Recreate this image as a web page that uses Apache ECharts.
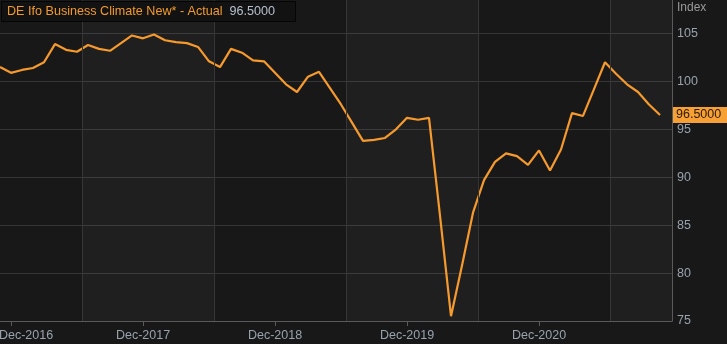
<!DOCTYPE html>
<html>
<head>
<meta charset="utf-8">
<script src="https://cdn.jsdelivr.net/npm/echarts@6/dist/echarts.min.js"></script>
<style>
html,body{margin:0;padding:0;background:#181818;}
#c{width:727px;height:344px;}
</style>
</head>
<body>
<div id="c"></div>
<script>
// Monthly observations, Nov-2016 .. Nov-2021
const months = [
 '2016-11','2016-12',
 '2017-01','2017-02','2017-03','2017-04','2017-05','2017-06','2017-07','2017-08','2017-09','2017-10','2017-11','2017-12',
 '2018-01','2018-02','2018-03','2018-04','2018-05','2018-06','2018-07','2018-08','2018-09','2018-10','2018-11','2018-12',
 '2019-01','2019-02','2019-03','2019-04','2019-05','2019-06','2019-07','2019-08','2019-09','2019-10','2019-11','2019-12',
 '2020-01','2020-02','2020-03','2020-04','2020-05','2020-06','2020-07','2020-08','2020-09','2020-10','2020-11','2020-12',
 '2021-01','2021-02','2021-03','2021-04','2021-05','2021-06','2021-07','2021-08','2021-09','2021-10','2021-11'
];
const values = [
 101.5,100.9,
 101.2,101.4,102.0,103.9,103.3,103.1,103.8,103.4,103.2,104.0,104.8,104.5,
 104.9,104.3,104.1,104.0,103.6,102.1,101.5,103.4,103.0,102.2,102.1,100.9,
 99.7,98.9,100.5,101.0,99.3,97.6,95.7,93.8,93.9,94.1,95.0,96.2,
 96.0,96.2,86.0,75.5,80.8,86.3,89.7,91.6,92.5,92.2,91.3,92.8,
 90.7,92.9,96.7,96.4,99.2,102.0,100.8,99.7,98.9,97.6,96.5
];
const tickMonths = ['2016-12','2017-12','2018-12','2019-12','2020-12'];
const tickLabels = ['Dec-2016','Dec-2017','Dec-2018','Dec-2019','Dec-2020'];
const yTicks = [75,80,85,90,95,100,105];
const seriesTitle = 'DE Ifo Business Climate New* - Actual';
const yName = 'Index';

const latest = values[values.length - 1];
const latestText = latest.toFixed(4);
const FONT = '"Liberation Sans", Arial, sans-serif';
const tickIdx = tickMonths.map(m => months.indexOf(m));
const gridLinesX = [7.45, 19.45, 31.45, 43.45, 55.45];
const bandEdges = [[7.45, 19.45], [31.45, 43.45], [55.45, 672 / 11]];

const chart = echarts.init(document.getElementById('c'), null, {renderer: 'canvas'});
chart.setOption({
  backgroundColor: '#181818',
  animation: false,
  title: {
    text: '{a|' + seriesTitle + '}  {b|' + latestText + '}',
    left: 1, top: 1,
    padding: [4, 21, 4, 6],
    backgroundColor: '#121212',
    borderColor: '#050505',
    borderWidth: 1,
    textStyle: {
      fontSize: 12.6, fontFamily: FONT, fontWeight: 'normal',
      rich: {
        a: {color: '#f39a2c', fontSize: 12.6, fontFamily: FONT},
        b: {color: '#b4c0cc', fontSize: 12.6, fontFamily: FONT}
      }
    }
  },
  grid: {left: 0, right: 55, top: 0, bottom: 23, show: false, outerBoundsMode: 'none', containLabel: false},
  xAxis: {
    type: 'value', min: 0, max: 672 / 11,
    axisLine: {show: true, onZero: false, lineStyle: {color: '#5a5a5a', width: 1}},
    axisTick: {show: true, length: 5, customValues: tickIdx, lineStyle: {color: '#5a5a5a'}},
    splitLine: {show: false},
    axisLabel: {
      customValues: tickIdx, margin: 8, fontSize: 12.5, fontFamily: FONT, color: '#98a3ae',
      formatter: function (v) {
        const i = tickIdx.indexOf(Math.round(v));
        if (i < 0) return '';
        return i === 0 ? '{f|' + tickLabels[i] + '}' : tickLabels[i];
      },
      rich: {f: {padding: [0, 0, 0, 30], fontSize: 12.5, fontFamily: FONT, color: '#98a3ae'}}
    }
  },
  yAxis: {
    type: 'value', position: 'right', min: 75, max: 108.5, interval: 5,
    axisLine: {show: true, onZero: false, lineStyle: {color: '#5a5a5a', width: 1}},
    axisTick: {show: false},
    splitLine: {show: true, showMaxLine: false, lineStyle: {color: '#363636', width: 1}},
    axisLabel: {
      margin: 5, fontSize: 12.5, fontFamily: FONT, color: '#98a3ae',
      showMaxLabel: false,
      formatter: v => (yTicks.indexOf(v) >= 0 ? String(v) : '')
    }
  },
  series: [{
    type: 'line',
    data: values.map((v, i) => [i, v]),
    showSymbol: false,
    lineStyle: {color: '#f79a2e', width: 2.2},
    itemStyle: {color: '#f79a2e'},
    markArea: {
      silent: true,
      itemStyle: {color: 'rgba(255,255,255,0.03)', borderWidth: 0},
      data: bandEdges.map(b => [{xAxis: b[0]}, {xAxis: b[1]}])
    },
    markLine: {
      silent: true,
      symbol: ['none', 'none'],
      animation: false,
      label: {show: false},
      data: gridLinesX.map(x => ({
        xAxis: x,
        lineStyle: {color: '#363636', width: 1, type: 'solid'}
      }))
    }
  }]
});

// Last-value tag on the right axis, positioned through the y scale
const py = chart.convertToPixel({yAxisIndex: 0}, latest);
chart.setOption({
  graphic: [{
    type: 'text', left: 677, top: 2,
    style: {text: yName, fill: '#9a9a9a', font: '12px ' + FONT}
  }, {
    type: 'group', left: 673, top: py - 8,
    children: [{
      type: 'rect', shape: {x: 0, y: 0, width: 54, height: 16},
      style: {fill: '#f7a035'}
    }, {
      type: 'text', x: 3, y: 8,
      style: {text: latestText, fill: '#2a1a05', font: '12.5px ' + FONT, verticalAlign: 'middle'}
    }]
  }]
});
</script>
</body>
</html>
